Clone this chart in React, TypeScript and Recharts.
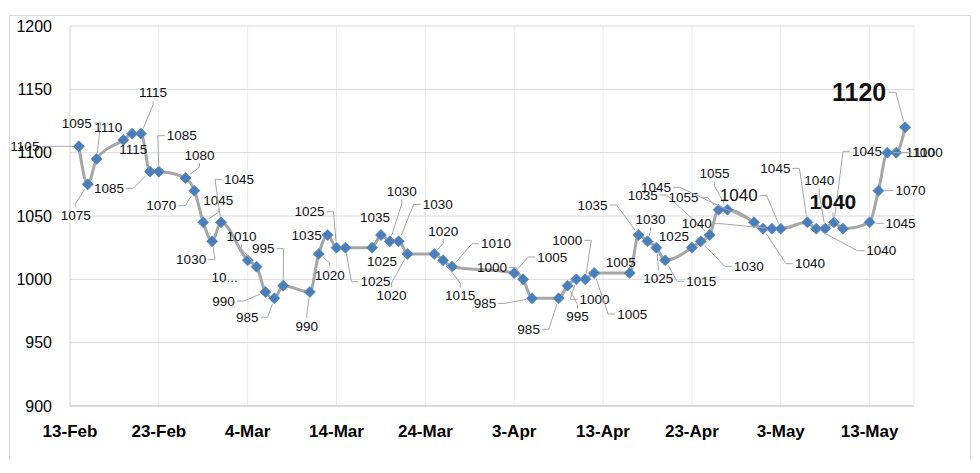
import React from 'react';
import { LineChart, Line, XAxis, YAxis, CartesianGrid, LabelList } from 'recharts';

// price series, one entry per trading day
const dates = [
  '14-Feb', '15-Feb', '16-Feb', '19-Feb', '20-Feb', '21-Feb', '22-Feb', '23-Feb', '26-Feb', '27-Feb',
  '28-Feb', '29-Feb', '1-Mar', '4-Mar', '5-Mar', '6-Mar', '7-Mar', '8-Mar', '11-Mar', '12-Mar',
  '13-Mar', '14-Mar', '15-Mar', '18-Mar', '19-Mar', '20-Mar', '21-Mar', '22-Mar', '25-Mar', '26-Mar',
  '27-Mar', '3-Apr', '4-Apr', '5-Apr', '8-Apr', '9-Apr', '10-Apr', '11-Apr', '12-Apr', '16-Apr',
  '17-Apr', '18-Apr', '19-Apr', '20-Apr', '23-Apr', '24-Apr', '25-Apr', '26-Apr', '27-Apr', '30-Apr',
  '1-May', '2-May', '3-May', '6-May', '7-May', '8-May', '9-May', '10-May', '13-May', '14-May',
  '15-May', '16-May', '17-May',
];
const prices = [
  1105, 1075, 1095, 1110, 1115, 1115, 1085, 1085, 1080, 1070,
  1045, 1030, 1045, 1015, 1010, 990, 985, 995, 990, 1020,
  1035, 1025, 1025, 1025, 1035, 1030, 1030, 1020, 1020, 1015,
  1010, 1005, 1000, 985, 985, 995, 1000, 1000, 1005, 1005,
  1035, 1030, 1025, 1015, 1025, 1030, 1035, 1055, 1055, 1045,
  1040, 1040, 1040, 1045, 1040, 1040, 1045, 1040, 1045, 1070,
  1100, 1100, 1120,
];

const xTickLabels = ['13-Feb', '23-Feb', '4-Mar', '14-Mar', '24-Mar', '3-Apr', '13-Apr', '23-Apr', '3-May', '13-May'];
const yTicks = [900, 950, 1000, 1050, 1100, 1150, 1200];

// where each data label was dragged to, relative to its marker (label centre)
const labelOffsets: [number, number][] = [
  [-54, 0], [-12, 31], [-20, -36], [-15, -13], [1, 16], [12, -41], [-41, 17], [23, -36], [14, -23], [-33, 15],
  [15, -22], [-21, 18], [18, -43], [-23, 17], [-15, -30], [-42, 9], [-27, 19], [-20, -37], [-3, 34], [11, 21],
  [-21, 0], [-27, -36], [30, 34], [10, 14], [-6, -18], [12, -50], [39, -37], [-16, 41], [9, -23], [17, 35],
  [44, -23], [38, -16], [-31, -12], [-47, 5], [-30, 31], [10, 31], [18, 20], [-18, -39], [38, 41], [-9, -11],
  [-46, -30], [3, -22], [2, 31], [36, 21], [-18, -11], [48, 25], [-67, -40], [-35, -12], [-13, -36], [-98, -35],
  [47, 35], [-75, -5], [-42, -33], [-32, -54], [65, 22], [-6, -48], [33, -71], [-10, -27], [31, 1], [32, 0],
  [33, 0], [32, 0], [-46, -35],
];
const labelText: Record<number, string> = { 13: '10...' };
const labelFont: Record<number, { size: number; weight: number }> = {
  52: { size: 17, weight: 400 },
  57: { size: 21, weight: 700 },
  62: { size: 25, weight: 700 },
};

const MONTHS: Record<string, number> = { Feb: 1, Mar: 2, Apr: 3, May: 4 };
const START = Date.UTC(2020, 1, 13);
const toDay = (s: string) => {
  const [d, m] = s.split('-');
  return Math.round((Date.UTC(2020, MONTHS[m], Number(d)) - START) / 86400000);
};
const xTicks = xTickLabels.map(toDay);
const data = dates.map((d, i) => ({ day: toDay(d), price: prices[i] }));

const FONT = '"Liberation Sans", Arial, sans-serif';
const LEADER = '#a6a6a6';

const Diamond = (props: any) => {
  const { cx, cy } = props;
  if (cx == null || cy == null) return null;
  const r = 5.5;
  return (
    <polygon
      points={`${cx},${cy - r} ${cx + r},${cy} ${cx},${cy + r} ${cx - r},${cy}`}
      fill="#4a7ebb"
      stroke="#5b8ac4"
      strokeWidth={0.8}
    />
  );
};

const DataLabel = (props: any) => {
  const vb = props.viewBox || {};
  const px = vb.x ?? props.x;
  const py = vb.y ?? props.y;
  const index = props.index;
  if (px == null || py == null || index == null) return null;
  const [dx, dy] = labelOffsets[index] || [0, -15];
  const font = labelFont[index] || { size: 13.5, weight: 400 };
  const text = labelText[index] ?? String(props.value);
  const w = text.length * font.size * 0.556;
  const h = font.size * 0.75;
  const lx = px + dx;
  const ly = py + dy;
  const hw = w / 2 + 2;
  const hh = h / 2 + 3;
  const gapX = Math.max(0, Math.abs(dx) - hw);
  const gapY = Math.max(0, Math.abs(dy) - hh);
  let leader: React.ReactNode = null;
  if (Math.hypot(gapX, gapY) > 10) {
    let pts: number[][];
    if (Math.abs(dx) > hw) {
      const s = dx < 0 ? 1 : -1;
      const ax = lx + s * hw;
      pts = [[ax, ly], [ax + s * 7, ly]];
    } else {
      const s = dy < 0 ? 1 : -1;
      const ay = ly + s * hh;
      pts = [[lx, ay], [lx, ay + s * 4]];
    }
    const [qx, qy] = pts[pts.length - 1];
    const dist = Math.hypot(px - qx, py - qy) || 1;
    const ex = px - ((px - qx) / dist) * 6;
    const ey = py - ((py - qy) / dist) * 6;
    pts.push([ex, ey]);
    leader = (
      <polyline points={pts.map((p) => p.join(',')).join(' ')} fill="none" stroke={LEADER} strokeWidth={1} />
    );
  }
  return (
    <g>
      {leader}
      <text
        x={lx}
        y={ly}
        textAnchor="middle"
        dominantBaseline="central"
        fontFamily={FONT}
        fontSize={font.size}
        fontWeight={font.weight}
        fill="#111"
      >
        {text}
      </text>
    </g>
  );
};

export default function App() {
  return (
    <div
      style={{
        position: 'absolute',
        left: 0,
        top: 0,
        width: 980,
        height: 473,
        background: '#fff',
        overflow: 'hidden',
      }}
    >
      <div
        style={{
          position: 'absolute',
          left: 9,
          top: 15,
          width: 960,
          height: 443,
          borderTop: '1px solid #d9d9d9',
          borderLeft: '1px solid #d9d9d9',
          borderRight: '1px solid #d9d9d9',
        }}
      />
      <div style={{ position: 'absolute', left: 0, top: 0 }}>
        <LineChart width={980} height={473} data={data} margin={{ top: 26, right: 66, left: 0, bottom: 27 }}>
          <CartesianGrid horizontal={false} vertical stroke="#ececec" />
          <CartesianGrid horizontal vertical={false} stroke="#d9d9d9" />
          <XAxis
            dataKey="day"
            type="number"
            domain={[0, 95]}
            ticks={xTicks}
            interval={0}
            height={40}
            tickFormatter={(v: number) => xTickLabels[xTicks.indexOf(v)] ?? ''}
            tick={{ fill: '#000', fontSize: 17, fontWeight: 700, fontFamily: FONT }}
            tickLine={false}
            tickSize={8}
            tickMargin={11}
            axisLine={{ stroke: '#c6c6c6' }}
          />
          <YAxis
            type="number"
            domain={[900, 1200]}
            ticks={yTicks}
            interval={0}
            width={70}
            tick={{ fill: '#000', fontSize: 16, fontFamily: FONT }}
            tickLine={false}
            tickSize={8}
            tickMargin={10}
            axisLine={{ stroke: '#dcdcdc' }}
          />
          <Line
            type="monotone"
            dataKey="price"
            stroke="#a6a6a6"
            strokeWidth={3}
            dot={(p: any) => <Diamond key={`d-${p.index}`} {...p} />}
            activeDot={false}
            isAnimationActive={false}
          >
            <LabelList dataKey="price" content={<DataLabel />} />
          </Line>
        </LineChart>
      </div>
    </div>
  );
}
